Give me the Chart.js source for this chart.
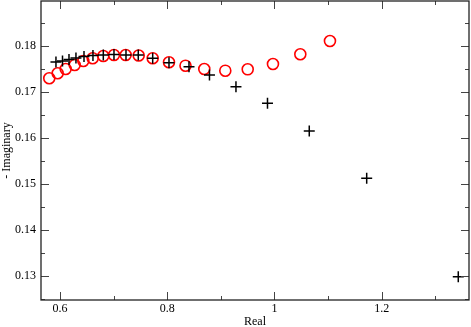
<!DOCTYPE html>
<html>
<head>
<meta charset="utf-8">
<script src="https://cdn.jsdelivr.net/npm/chart.js@4"></script>
<style>
  body { margin: 0; background: #fff; }
  #wrap { width: 471px; height: 327px; }
</style>
</head>
<body>
<div id="wrap"><canvas id="chart" width="471" height="327"></canvas></div>
<script>
// black "+" series
const plusReal = [0.5925, 0.6047, 0.6168, 0.6298, 0.6448, 0.6615, 0.6808, 0.7007, 0.7231, 0.7460,
  0.7729, 0.8033, 0.8406, 0.8788, 0.9282, 0.9870, 1.0649, 1.1720, 1.3428];
const plusImag = [0.17652, 0.17674, 0.17707, 0.17739, 0.17772, 0.17793, 0.17804, 0.17815, 0.17804, 0.17804,
  0.17733, 0.17637, 0.1755, 0.1737, 0.17115, 0.16754, 0.16152, 0.15124, 0.12985];

// red circle series
const circleReal = [0.5800, 0.5957, 0.6106, 0.6274, 0.6435, 0.6610, 0.6808, 0.7007, 0.7225, 0.7468,
  0.7729, 0.8033, 0.8341, 0.8691, 0.9083, 0.9501, 0.9972, 1.0482, 1.1035];
const circleImag = [0.17298, 0.17407, 0.17500, 0.17587, 0.17674, 0.17733, 0.17783, 0.17804, 0.17804, 0.17793,
  0.17733, 0.17646, 0.17572, 0.17500, 0.17463, 0.17493, 0.17609, 0.17820, 0.18109];

const xMajor = [0.6, 0.8, 1.0, 1.2];
const xMinor = [0.7, 0.9, 1.1, 1.3];
const yMajor = [0.13, 0.14, 0.15, 0.16, 0.17, 0.18];
const yMinor = [0.125, 0.135, 0.145, 0.155, 0.165, 0.175, 0.185];

const X_RANGE = [0.5646, 1.3628];
const Y_RANGE = [0.12478, 0.18978];

const FONT = { family: "'Liberation Serif', 'Times New Roman', serif", size: 12 };

const toPoints = (xs, ys) => xs.map((x, i) => ({ x, y: ys[i] }));

// inward tick marks on all four sides + frame
const frameTicks = {
  id: 'frameTicks',
  afterDraw(chart) {
    const { ctx, chartArea: a, scales: { x, y } } = chart;
    ctx.save();
    ctx.strokeStyle = '#444';
    ctx.lineWidth = 1;
    const tick = (list, len, horiz) => {
      list.forEach((v) => {
        if (horiz) {
          const px = Math.round(x.getPixelForValue(v)) + 0.5;
          ctx.beginPath();
          ctx.moveTo(px, a.top); ctx.lineTo(px, a.top + len);
          ctx.moveTo(px, a.bottom); ctx.lineTo(px, a.bottom - len);
          ctx.stroke();
        } else {
          const py = Math.round(y.getPixelForValue(v)) + 0.5;
          ctx.beginPath();
          ctx.moveTo(a.left, py); ctx.lineTo(a.left + len, py);
          ctx.moveTo(a.right, py); ctx.lineTo(a.right - len, py);
          ctx.stroke();
        }
      });
    };
    tick(xMajor, 8, true);
    tick(xMinor, 4, true);
    tick(yMajor, 8, false);
    tick(yMinor, 4, false);
    ctx.strokeStyle = '#222';
    ctx.lineWidth = 1.3;
    ctx.strokeRect(a.left, a.top, a.right - a.left, a.bottom - a.top);
    ctx.restore();
  },
};

new Chart(document.getElementById('chart'), {
  type: 'scatter',
  data: {
    datasets: [
      {
        label: 'plus',
        data: toPoints(plusReal, plusImag),
        pointStyle: 'cross',
        pointRadius: 5.5,
        borderColor: '#000',
        borderWidth: 1.5,
      },
      {
        label: 'circle',
        data: toPoints(circleReal, circleImag),
        pointStyle: 'circle',
        pointRadius: 5.5,
        borderColor: '#ff0000',
        backgroundColor: 'transparent',
        borderWidth: 1.6,
      },
    ],
  },
  options: {
    responsive: false,
    devicePixelRatio: 1,
    animation: false,
    layout: { autoPadding: false, padding: { top: 1, right: 2, left: 0, bottom: 0 } },
    plugins: {
      legend: { display: false },
      tooltip: { enabled: false },
    },
    scales: {
      x: {
        type: 'linear',
        min: X_RANGE[0],
        max: X_RANGE[1],
        afterBuildTicks: (s) => { s.ticks = xMajor.map((value) => ({ value })); },
        afterFit: (s) => {
          s.height = 27;
          s.paddingLeft = 0;
          s.paddingRight = 0;
        },
        grid: { display: false, drawTicks: false },
        border: { display: false },
        ticks: {
          color: '#000',
          font: FONT,
          padding: 2,
          maxRotation: 0,
          callback: (v) => String(Math.round(v * 10) / 10),
        },
        title: {
          display: true,
          text: 'Real',
          color: '#000',
          font: FONT,
          padding: { top: 0, bottom: -2 },
        },
      },
      y: {
        type: 'linear',
        min: Y_RANGE[0],
        max: Y_RANGE[1],
        afterBuildTicks: (s) => { s.ticks = yMajor.map((value) => ({ value })); },
        afterFit: (s) => {
          s.width = 41;
          s.paddingTop = 0;
          s.paddingBottom = 0;
        },
        grid: { display: false, drawTicks: false },
        border: { display: false },
        ticks: {
          color: '#000',
          font: FONT,
          padding: 5,
          callback: (v) => (Math.round(v * 100) / 100).toFixed(2),
        },
        title: {
          display: true,
          text: '- Imaginary',
          color: '#000',
          font: FONT,
          padding: 0,
        },
      },
    },
  },
  plugins: [frameTicks],
});
</script>
</body>
</html>
